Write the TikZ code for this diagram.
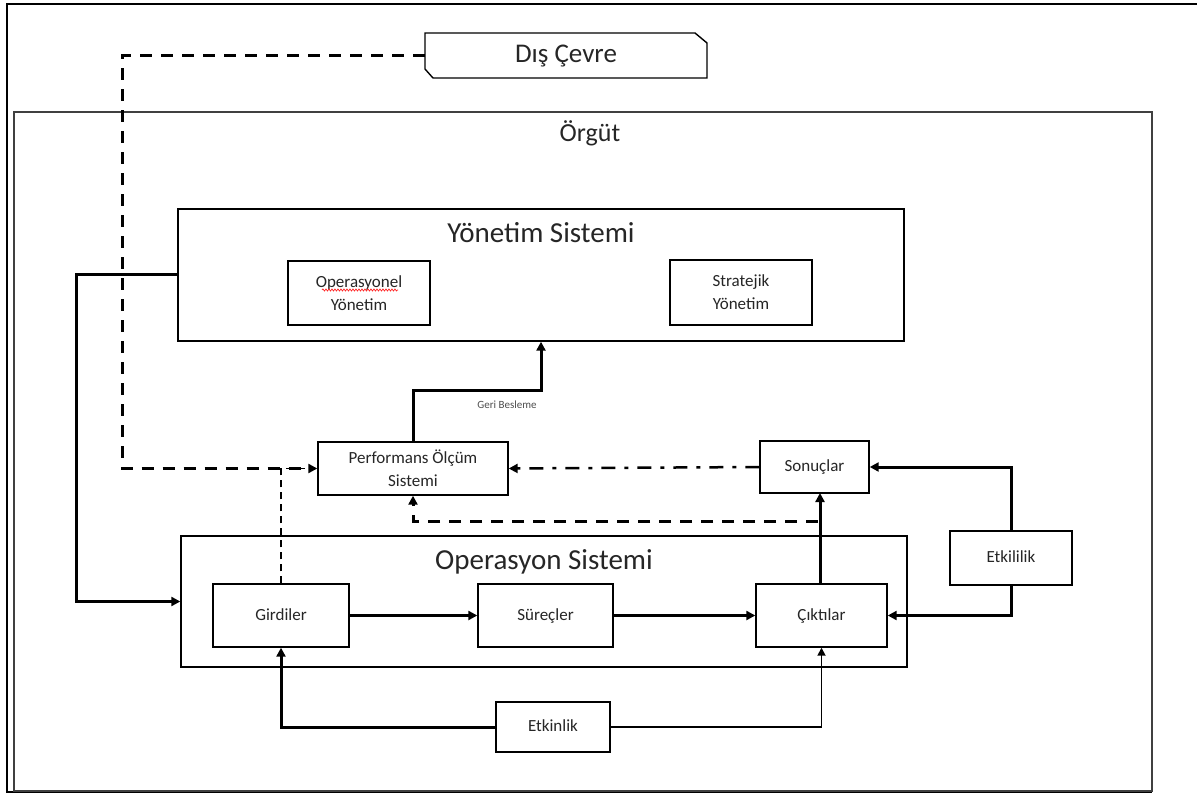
\documentclass[tikz,border=0pt]{standalone}
\usepackage{fontspec}
\setmainfont{Carlito}
\usetikzlibrary{arrows.meta,decorations.pathmorphing}
\definecolor{txt}{HTML}{262626}
\tikzset{
  box/.style={draw=black,line width=1.4pt,fill=white,inner sep=0pt,align=center,text=txt,font=\fontsize{17}{23}\selectfont},
  one/.style={text height=12pt,text depth=3pt},
  thk/.style={line width=3pt,-{Triangle[length=9pt,width=9pt]}},
  thn/.style={line width=1.7pt,-{Triangle[length=8pt,width=8pt]}},
  dsh/.style={line width=3pt,dash pattern=on 12pt off 9pt,-{Triangle[length=9pt,width=9pt]}},
  ddot/.style={line width=2.5pt,dash pattern=on 14pt off 9pt on 4pt off 9pt,-{Triangle[length=9pt,width=9pt]}},
  ttl/.style={text=txt,inner sep=0pt}
}
\begin{document}
\begin{tikzpicture}[x=1pt,y=-1pt]
\useasboundingbox (0,0) rectangle (1197,794);
% outer frame
\draw[line width=2.5pt] (1197,4) -- (7,4) -- (7,792) -- (1152,792);
% Orgut box
\draw[line width=1.5pt,draw=black!75] (14,112) rectangle (1152,791);
\node[ttl,font=\fontsize{26}{30}\selectfont] (orgut) at (590,133) {Örgüt};
% Dis Cevre
\node[inner sep=0pt,minimum width=282pt,minimum height=46pt] (dis) at (566,56) {};
\draw[line width=1.4pt] (425,33) -- (695,33) -- (707,43) -- (707,78) -- (433,78) -- (425,69) -- cycle;
\node[ttl,font=\fontsize{27}{30}\selectfont] (dist) at (566,56) {Dış Çevre};
% Yonetim Sistemi
\node[box,minimum width=726pt,minimum height=132pt] (yon) at (541,275) {};
\node[ttl,font=\fontsize{29}{32}\selectfont] (yont) at (541,233) {Yönetim Sistemi};
\node[box,minimum width=142pt,minimum height=64pt] (opy) at (359,293) {Operasyonel\\Yönetim};
\draw[red!85,line width=0.7pt,decorate,decoration={snake,amplitude=1pt,segment length=3pt}] (322,290) -- (398,290);
\node[box,minimum width=142pt,minimum height=65pt] (sty) at (741,292.5) {Stratejik\\Yönetim};
% Operasyon Sistemi
\node[box,minimum width=726pt,minimum height=131pt] (ops) at (544,601.5) {};
\node[ttl,font=\fontsize{29}{32}\selectfont] (opst) at (544,562) {Operasyon Sistemi};
\node[box,one,minimum width=136pt,minimum height=63pt] (gir) at (281,615.5) {Girdiler};
\node[box,one,minimum width=135pt,minimum height=63pt] (sur) at (545.5,615.5) {Süreçler};
\node[box,one,minimum width=131pt,minimum height=63pt] (cik) at (821.5,615.5) {Çıktılar};
% others
\node[box,minimum width=190pt,minimum height=53pt] (pos) at (413,468.5) {Performans Ölçüm\\Sistemi};
\node[box,one,minimum width=109pt,minimum height=52pt] (son) at (814.5,467) {Sonuçlar};
\node[box,one,minimum width=122pt,minimum height=54pt] (etkili) at (1011,558) {Etkililik};
\node[box,one,minimum width=114pt,minimum height=50pt] (etkin) at (553,727) {Etkinlik};
\node[ttl,font=\fontsize{11}{13}\selectfont,text=black!70] (geri) at (507,405) {Geri Besleme};
\coordinate (c5) at (818,521);
% connectors
\draw[dsh] (dis.west) -- (122,56) |- (pos.west);
\draw[line width=1.1pt,dash pattern=on 7pt off 5pt] (gir.north) |- ([xshift=-12pt]pos.west);
\draw[thk] (yon.west) -- (76,275) |- (ops.west);
\draw[thk] (pos.north) -- (413,390) -| (yon.south);
\draw[ddot] (son.west) -- (pos.east);
\draw[dsh] (c5) -| (pos.south);
\draw[thk] (820,584) -- (820,493);
\draw[thk] (etkili.north) |- (son.east);
\draw[thk] (etkili.south) |- (cik.east);
\draw[thk] (gir.east) -- (sur.west);
\draw[thk] (sur.east) -- (cik.west);
\draw[thk] (etkin.west) -| (gir.south);
\draw[thn] (etkin.east) -| (cik.south);
\end{tikzpicture}
\end{document}
